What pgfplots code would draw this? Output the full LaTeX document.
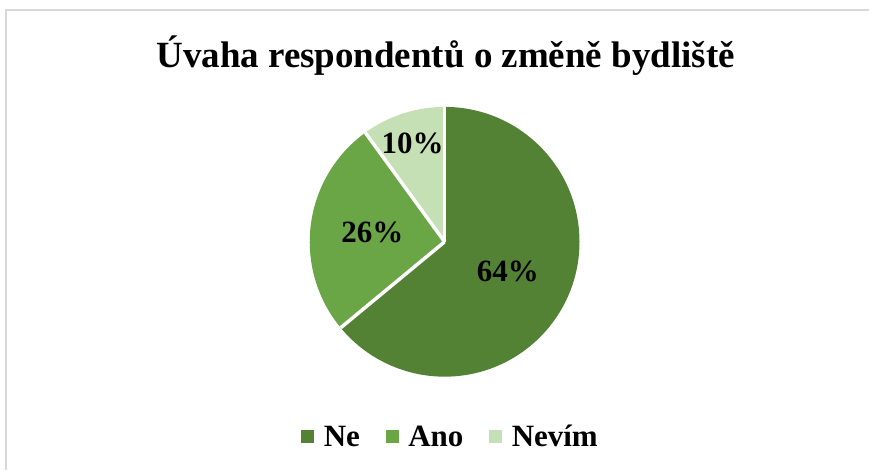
\documentclass[border=0pt]{standalone}
\usepackage{fontspec}
\setmainfont{Liberation Serif}
\usepackage{pgfplots}
\pgfplotsset{compat=1.18}

\definecolor{cNe}{HTML}{548235}
\definecolor{cAno}{HTML}{6AA646}
\definecolor{cNev}{HTML}{C5E0B4}
\definecolor{frame}{HTML}{D9D9D9}

\begin{document}
\begin{tikzpicture}
% shares in percent
\def\vNe{64}
\def\vAno{26}
\def\vNev{10}
% pie centre and radius (axis units = pt)
\def\cx{445}
\def\cy{228}
\def\r{135}
\pgfmathsetmacro\aA{90}
\pgfmathsetmacro\aB{\aA-3.6*\vNe}
\pgfmathsetmacro\aC{\aB-3.6*\vAno}
\pgfmathsetmacro\aD{\aC-3.6*\vNev}
\pgfmathsetmacro\xA{\cx+\r*cos(\aA)}\pgfmathsetmacro\yA{\cy+\r*sin(\aA)}
\pgfmathsetmacro\xB{\cx+\r*cos(\aB)}\pgfmathsetmacro\yB{\cy+\r*sin(\aB)}
\pgfmathsetmacro\xC{\cx+\r*cos(\aC)}\pgfmathsetmacro\yC{\cy+\r*sin(\aC)}
\pgfmathsetmacro\lxA{\cx+70*cos((\aA+\aB)/2)}\pgfmathsetmacro\lyA{\cy+70*sin((\aA+\aB)/2)}
\pgfmathsetmacro\lxB{\cx+73*cos((\aB+\aC)/2)}\pgfmathsetmacro\lyB{\cy+73*sin((\aB+\aC)/2)}
\pgfmathsetmacro\lxC{\cx+104*cos((\aC+\aD)/2)}\pgfmathsetmacro\lyC{\cy+104*sin((\aC+\aD)/2)}
\begin{axis}[
    x=1pt, y=1pt,
    xmin=0, xmax=870, ymin=0, ymax=470,
    hide axis,
    clip=false,
    legend columns=-1,
    legend style={at={(axis cs:451,33)}, anchor=center, draw=none, fill=none,
        font=\fontsize{31}{36}\selectfont\bfseries,
        /tikz/every odd column/.append style={column sep=8pt},
        /tikz/every even column/.append style={column sep=24pt}},
]
\path (axis cs:0,0) rectangle (axis cs:870,470);
\draw[frame, line width=1.5pt] (axis cs:6,0) -- (axis cs:6,460) -- (axis cs:870,460);

\node[anchor=base, font=\fontsize{37}{44}\selectfont\bfseries] at (axis cs:446,402)
    {Úvaha respondentů o změně bydliště};

\fill[cNe] (axis cs:\cx,\cy) -- (axis cs:\xA,\yA) arc[start angle=\aA, end angle=\aB, radius=\r] -- cycle;
\fill[cAno] (axis cs:\cx,\cy) -- (axis cs:\xB,\yB) arc[start angle=\aB, end angle=\aC, radius=\r] -- cycle;
\fill[cNev] (axis cs:\cx,\cy) -- (axis cs:\xC,\yC) arc[start angle=\aC, end angle=\aD, radius=\r] -- cycle;
\draw[white, line width=3.5pt] (axis cs:\cx,\cy) -- (axis cs:\xA,\yA);
\draw[white, line width=3.5pt] (axis cs:\cx,\cy) -- (axis cs:\xB,\yB);
\draw[white, line width=3.5pt] (axis cs:\cx,\cy) -- (axis cs:\xC,\yC);

\node[font=\fontsize{31}{36}\selectfont\bfseries] at (axis cs:\lxA,\lyA) {\vNe\%};
\node[font=\fontsize{31}{36}\selectfont\bfseries] at (axis cs:\lxB,\lyB) {\vAno\%};
\node[font=\fontsize{31}{36}\selectfont\bfseries] at (axis cs:\lxC,\lyC) {\vNev\%};

\addlegendimage{legend image code/.code={\fill[cNe] (0pt,-6pt) rectangle (12pt,6pt);}}
\addlegendentry{Ne}
\addlegendimage{legend image code/.code={\fill[cAno] (0pt,-6pt) rectangle (12pt,6pt);}}
\addlegendentry{Ano}
\addlegendimage{legend image code/.code={\fill[cNev] (0pt,-6pt) rectangle (12pt,6pt);}}
\addlegendentry{Nevím}
\end{axis}
\end{tikzpicture}
\end{document}
